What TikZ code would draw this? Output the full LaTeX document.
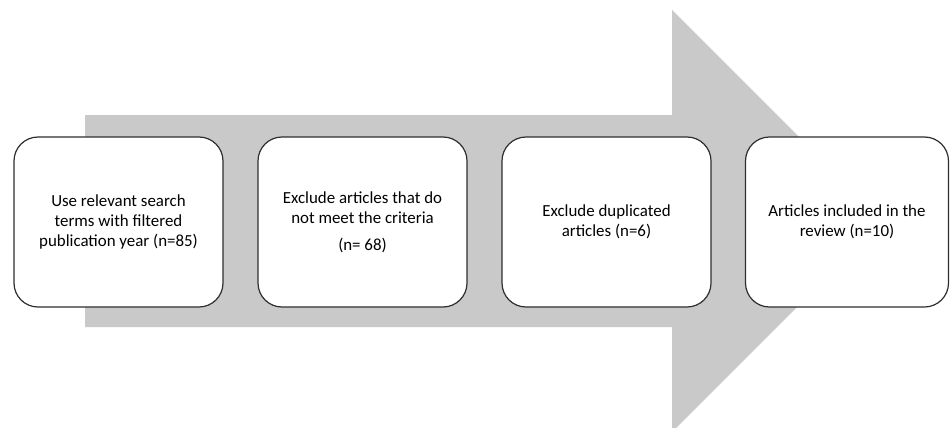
\documentclass[tikz,border=0pt]{standalone}
\usepackage{fontspec}
\setmainfont{Carlito}
\definecolor{arrowgray}{HTML}{C9C9C9}
\definecolor{boxline}{HTML}{2E2E2E}
\begin{document}
\begin{tikzpicture}[x=1pt,y=-1pt,
  stepbox/.style={draw=boxline,line width=1.2pt,fill=white,rounded corners=24pt,
    minimum height=170pt,inner sep=0pt,align=center,
    font=\fontsize{16.9pt}{20pt}\selectfont}]
\useasboundingbox (0,0) rectangle (950,428);
\begin{scope}
\clip (0,0) rectangle (950,428);
\fill[arrowgray] (85,115) -- (672,115) -- (672,10) -- (883,221) -- (672,432)
  -- (672,327) -- (85,327) -- cycle;
\end{scope}
\node[stepbox,minimum width=209pt] (b1) at (118.5,222) {Use relevant search\\terms with filtered\\publication year (n=85)};
\node[stepbox,minimum width=209pt] (b2) at (362.5,222) {Exclude articles that do\\not meet the criteria\\[7pt](n= 68)};
\node[stepbox,minimum width=209pt] (b3) at (606.5,222) {Exclude duplicated\\articles (n=6)};
\node[stepbox,minimum width=203pt] (b4) at (847,222) {Articles included in the\\review (n=10)};
\end{tikzpicture}
\end{document}
